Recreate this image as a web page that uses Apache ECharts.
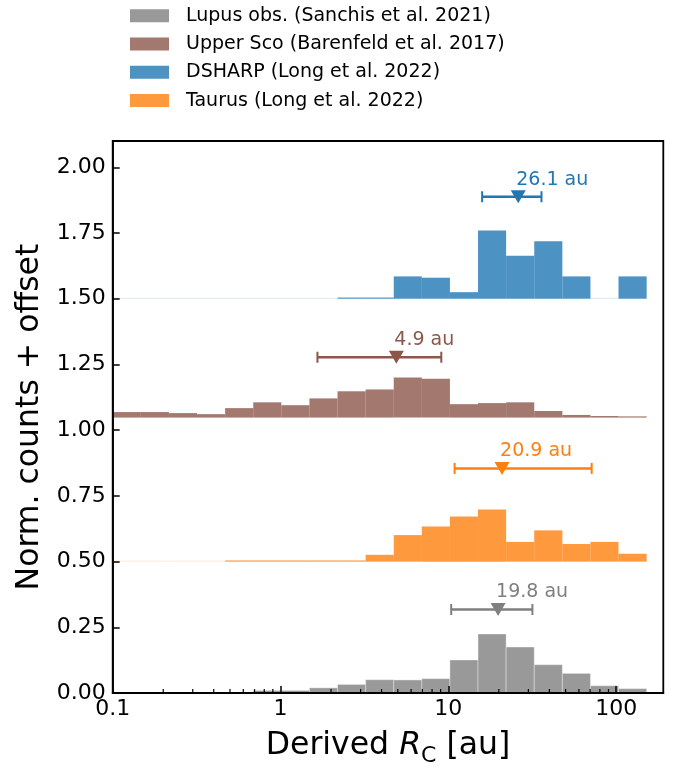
<!DOCTYPE html>
<html><head><meta charset="utf-8">
<script src="https://cdn.jsdelivr.net/npm/echarts@6/dist/echarts.min.js"></script>
<style>html,body{margin:0;padding:0;background:#fff}#c{width:678px;height:772px}</style>
</head><body><div id="c"></div>
<script>
// ---- data ----
const seriesNames = ['Lupus obs. (Sanchis et al. 2021)', 'Upper Sco (Barenfeld et al. 2017)', 'DSHARP (Long et al. 2022)', 'Taurus (Long et al. 2022)'];
const binEdges = [0.1, 0.1471, 0.2163, 0.3181, 0.4678, 0.688, 1.011, 1.487, 2.187, 3.216, 4.729, 6.953, 10.22, 15.03, 22.1, 32.51, 47.81, 70.3, 103.3, 152.0];
const lupusCounts    = [0, 0, 0, 0, 0, 0.010, 0.010, 0.020, 0.033, 0.051, 0.050, 0.055, 0.126, 0.225, 0.175, 0.108, 0.075, 0.028, 0.017];
const upperScoCounts = [0.021, 0.021, 0.017, 0.013, 0.036, 0.058, 0.047, 0.073, 0.100, 0.107, 0.152, 0.148, 0.051, 0.055, 0.058, 0.025, 0.010, 0.006, 0.002];
const dsharpCounts   = [0, 0, 0, 0, 0, 0, 0, 0, 0.003, 0.003, 0.085, 0.080, 0.025, 0.260, 0.164, 0.219, 0.085, 0, 0.085];
const taurusCounts   = [0, 0, 0, 0, 0.002, 0.002, 0.002, 0.004, 0.004, 0.026, 0.101, 0.134, 0.172, 0.198, 0.075, 0.119, 0.067, 0.075, 0.030];
const offsets = [0, 1.048, 1.5, 0.5];
const medians = [19.8, 4.9, 26.1, 20.9];
const lowerBounds = [10.4, 1.66, 15.9, 10.9];
const upperBounds = [31.7, 9.08, 35.9, 71.5];
const markerLevels = [0.318, 1.2775, 1.888, 0.8545];
const medianLabels = ['19.8 au', '4.9 au', '26.1 au', '20.9 au'];
const xMinorTicks = [0.2, 0.3, 0.4, 0.5, 0.6, 0.7, 0.8, 0.9, 2, 3, 4, 5, 6, 7, 8, 9, 20, 30, 40, 50, 60, 70, 80, 90];

// ---- styles ----
const FONT = '"DejaVu Sans", sans-serif';
const lineColors = ['#7f7f7f', '#8c564b', '#1f77b4', '#ff7f0e'];
const fillColors = ['rgba(127,127,127,0.8)', 'rgba(140,86,75,0.8)', 'rgba(31,119,180,0.8)', 'rgba(255,127,14,0.8)'];
const allCounts = [lupusCounts, upperScoCounts, dsharpCounts, taurusCounts];

function histSeries(i) {
  const data = allCounts[i].map((h, k) => [binEdges[k], binEdges[k + 1], h, offsets[i]]);
  return {
    type: 'custom', name: seriesNames[i], data: data, z: 2,
    itemStyle: { color: fillColors[i] },
    encode: { x: [0, 1], y: [3] },
    renderItem: function (params, api) {
      const lo = api.value(0), hi = api.value(1), h = api.value(2), b = api.value(3);
      const p0 = api.coord([lo, b]);
      const p1 = api.coord([hi, b + h]);
      let top = p1[1], bottom = p0[1];
      let opacity = 1;
      if (h <= 0) { top = bottom - 1; opacity = 0.22; }
      else if (bottom - top < 1.2) { top = bottom - 1.2; }
      const style = { fill: fillColors[i], opacity: opacity };
      if (i === 0 && h > 0) { style.stroke = 'rgba(255,255,255,0.45)'; style.lineWidth = 0.8; }
      return { type: 'rect', shape: { x: p0[0], y: top, width: p1[0] - p0[0], height: bottom - top }, style: style };
    }
  };
}

const series = [0, 1, 2, 3].map(histSeries);

series.push({
  type: 'custom', name: 'medians', z: 5,
  data: medians.map((m, i) => [m, lowerBounds[i], upperBounds[i], markerLevels[i], i]),
  encode: { x: [0, 1, 2], y: [3] },
  renderItem: function (params, api) {
    const i = api.value(4);
    const c = lineColors[i];
    const y = api.value(3);
    const pm = api.coord([api.value(0), y]);
    const pl = api.coord([api.value(1), y]);
    const ph = api.coord([api.value(2), y]);
    const cap = 5.5;
    return {
      type: 'group', children: [
        { type: 'line', shape: { x1: pl[0], y1: pl[1], x2: ph[0], y2: ph[1] }, style: { stroke: c, lineWidth: 2.6 } },
        { type: 'line', shape: { x1: pl[0], y1: pl[1] - cap, x2: pl[0], y2: pl[1] + cap }, style: { stroke: c, lineWidth: 2 } },
        { type: 'line', shape: { x1: ph[0], y1: ph[1] - cap, x2: ph[0], y2: ph[1] + cap }, style: { stroke: c, lineWidth: 2 } },
        { type: 'polygon', shape: { points: [[pm[0] - 7.5, pm[1] - 6.5], [pm[0] + 7.5, pm[1] - 6.5], [pm[0], pm[1] + 6.5]] }, style: { fill: c } },
        { type: 'text', x: pm[0] - 2, y: pm[1] - 17, style: { text: medianLabels[i], fill: c, fontSize: 19, fontFamily: FONT, align: 'left', verticalAlign: 'middle' } }
      ]
    };
  }
});

series.push({
  type: 'custom', name: 'minorTicks', z: 6, silent: true,
  data: xMinorTicks.map(v => [v, 0]),
  encode: { x: 0, y: 1 },
  renderItem: function (params, api) {
    const p = api.coord([api.value(0), api.value(1)]);
    return { type: 'line', shape: { x1: p[0], y1: p[1], x2: p[0], y2: p[1] - 4 }, style: { stroke: '#000', lineWidth: 1.2 } };
  }
});

const chart = echarts.init(document.getElementById('c'), null, { renderer: 'canvas' });
chart.setOption({
  animation: false,
  backgroundColor: '#fff',
  textStyle: { fontFamily: FONT },
  grid: { left: 112.7, right: 14.7, top: 141, bottom: 69.3, show: true, borderColor: '#000', borderWidth: 1.8, backgroundColor: 'transparent' },
  legend: {
    data: seriesNames, orient: 'vertical', left: 130, top: 5.7, padding: 0,
    itemWidth: 39, itemHeight: 13, itemGap: 8.3, icon: 'rect', selectedMode: false,
    textStyle: { fontSize: 19, fontFamily: FONT, color: '#000', lineHeight: 20, padding: [0, 0, 0, 12] }
  },
  xAxis: {
    type: 'log', logBase: 10, min: 0.1, max: 191, z: 5,
    axisLine: { show: true, lineStyle: { color: '#000', width: 1.8 } },
    axisTick: { show: true, inside: true, length: 7, lineStyle: { color: '#000', width: 1.5 } },
    axisLabel: {
      fontSize: 22, fontFamily: FONT, color: '#000', margin: 5, showMaxLabel: false,
      formatter: function (v) {
        const l = Math.log10(v);
        if (Math.abs(l - Math.round(l)) > 1e-6) return '';
        return String(+v.toPrecision(3));
      }
    },
    splitLine: { show: false },
    name: 'Derived {r|R}{s|C} [au]', nameLocation: 'middle', nameGap: 31,
    nameTextStyle: {
      fontSize: 31.5, fontFamily: FONT, color: '#000', lineHeight: 42,
      rich: {
        r: { fontSize: 31.5, fontStyle: 'italic', fontFamily: FONT, color: '#000', lineHeight: 42 },
        s: { fontSize: 22, fontFamily: FONT, color: '#000', lineHeight: 22, verticalAlign: 'bottom' }
      }
    }
  },
  yAxis: {
    type: 'value', min: 0, max: 2.1, interval: 0.25, z: 5,
    axisLine: { show: true, lineStyle: { color: '#000', width: 1.8 } },
    axisTick: { show: true, inside: true, length: 7, lineStyle: { color: '#000', width: 1.5 } },
    axisLabel: { fontSize: 22, fontFamily: FONT, color: '#000', margin: 7, showMaxLabel: false, formatter: v => v.toFixed(2) },
    splitLine: { show: false },
    name: 'Norm. counts + offset', nameLocation: 'middle', nameGap: 64,
    nameTextStyle: { fontSize: 31.5, fontFamily: FONT, color: '#000' }
  },
  series: series
});
</script>
</body></html>
